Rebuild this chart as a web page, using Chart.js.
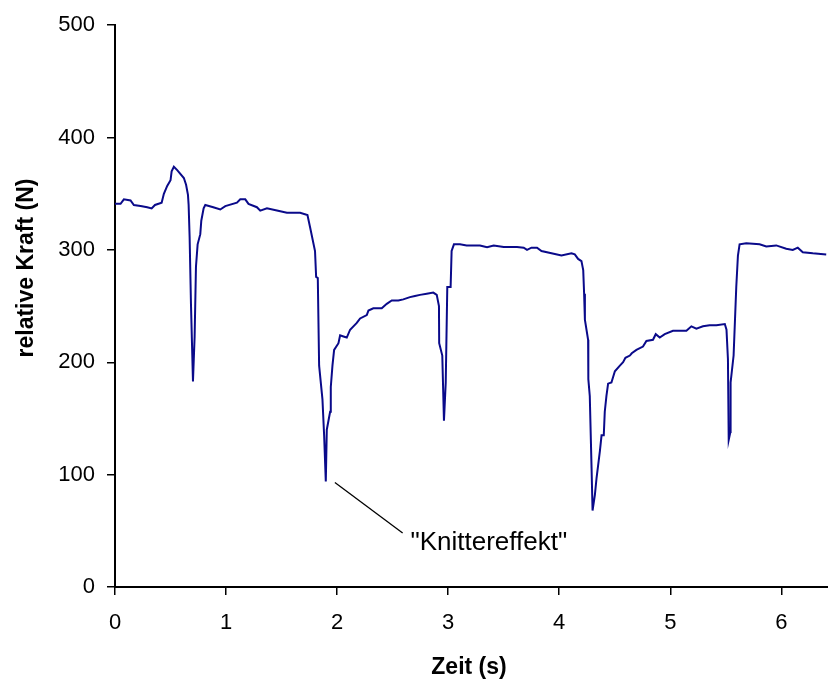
<!DOCTYPE html>
<html>
<head>
<meta charset="utf-8">
<script src="https://cdn.jsdelivr.net/npm/chart.js@4"></script>
<style>
  body { margin: 0; background: #fff; }
  #wrap { width: 828px; height: 684px; }
</style>
</head>
<body>
<div id="wrap"><canvas id="chart" width="828" height="684"></canvas></div>
<script>
// Time in seconds and relative force in N
const timeS = [
  0.00, 0.05, 0.08, 0.14, 0.17, 0.23, 0.29, 0.33, 0.36, 0.42, 0.44, 0.47, 0.50, 0.51, 0.53, 0.56,
  0.62, 0.64, 0.657, 0.663, 0.672, 0.684, 0.702, 0.717, 0.729, 0.744, 0.768, 0.777, 0.798, 0.813,
  0.885, 0.948, 0.993, 1.098, 1.128, 1.173, 1.202, 1.278, 1.308, 1.368, 1.458, 1.548, 1.667, 1.733,
  1.757, 1.801, 1.811, 1.826, 1.838, 1.868, 1.883, 1.898, 1.907, 1.937, 1.943, 1.958, 1.973, 2.012,
  2.027, 2.057, 2.087, 2.117, 2.177, 2.207, 2.267, 2.282, 2.326, 2.402, 2.447, 2.492, 2.551, 2.596,
  2.656, 2.701, 2.746, 2.807, 2.866, 2.897, 2.917, 2.919, 2.947, 2.962, 2.978, 2.992, 3.022, 3.031,
  3.052, 3.106, 3.166, 3.286, 3.35, 3.41, 3.50, 3.62, 3.68, 3.71, 3.75, 3.80, 3.84, 3.93, 4.02,
  4.11, 4.14, 4.17, 4.20, 4.216, 4.224, 4.231, 4.260, 4.262, 4.275, 4.291, 4.300, 4.321, 4.336,
  4.366, 4.381, 4.401, 4.410, 4.425, 4.440, 4.470, 4.501, 4.546, 4.575, 4.596, 4.636, 4.653, 4.695,
  4.754, 4.785, 4.844, 4.869, 4.905, 4.950, 5.024, 5.085, 5.145, 5.190, 5.235, 5.294, 5.354, 5.415,
  5.491, 5.506, 5.519, 5.526, 5.541, 5.543, 5.570, 5.594, 5.609, 5.624, 5.684, 5.804, 5.864, 5.954,
  6.044, 6.103, 6.148, 6.193, 6.283, 6.404
];
const forceN = [
  341, 341, 345, 344, 340, 339, 338, 337, 340, 342, 350, 357, 362, 370, 374, 371,
  364, 358, 349, 340, 311, 252, 183, 223, 285, 305, 314, 326, 337, 340,
  338, 336, 339, 342, 345, 345, 341, 338, 335, 337, 335, 333, 333, 331,
  320, 299, 276, 275, 197, 167, 135, 94, 140, 156, 178, 197, 211, 217,
  224, 223, 222, 229, 235, 239, 242, 246, 248, 248, 252, 255, 255, 256,
  258, 259, 260, 261, 262, 260, 250, 217, 206, 148, 182, 267, 267, 299,
  305, 305, 304, 304, 302.5, 304, 302.5, 302.5, 302, 300, 302, 302, 299, 297, 295,
  297, 296, 292, 290, 282, 261, 238, 220, 185, 170, 106, 68, 82, 97,
  121, 135, 135, 156, 170, 181, 182, 192, 197, 200, 204, 206, 208, 211,
  214, 219, 220, 225, 222, 225, 228, 228, 228, 232, 230, 232, 233, 233,
  234, 229, 203, 131, 138, 182, 206, 267, 295, 305, 306, 305, 303, 304,
  301, 300, 302, 298, 297, 296
];

const yTicks = [0, 100, 200, 300, 400, 500];
const xTicks = [0, 1, 2, 3, 4, 5, 6];
const xMax = 6.42;

const xTitle = 'Zeit (s)';
const yTitle = 'relative Kraft (N)';
const noteText = '"Knittereffekt"';
// annotation leader line: from near the dip to the label (data units)
const noteFrom = { x: 1.98, y: 93 };
const noteTo = { x: 2.59, y: 48 };
const noteLabel = { x: 2.66, y: 39 };

const FONT = "'Liberation Sans', Arial, sans-serif";

const labelsPlugin = {
    id: 'labels',
    afterDraw(chart) {
        const ctx = chart.ctx;
        const xs = chart.scales.x;
        const ys = chart.scales.y;
        ctx.save();
        ctx.fillStyle = '#000';

        // axis titles
        ctx.font = 'bold 23px ' + FONT;
        ctx.textAlign = 'center';
        ctx.textBaseline = 'middle';
        ctx.fillText(xTitle, 469, 668);
        ctx.save();
        ctx.translate(27, 268);
        ctx.rotate(-Math.PI / 2);
        ctx.fillText(yTitle, 0, 0);
        ctx.restore();

        // annotation
        ctx.strokeStyle = '#000';
        ctx.lineWidth = 1.3;
        ctx.beginPath();
        ctx.moveTo(xs.getPixelForValue(noteFrom.x), ys.getPixelForValue(noteFrom.y));
        ctx.lineTo(xs.getPixelForValue(noteTo.x), ys.getPixelForValue(noteTo.y));
        ctx.stroke();
        ctx.font = '26px ' + FONT;
        ctx.textAlign = 'left';
        ctx.fillText(noteText, xs.getPixelForValue(noteLabel.x), ys.getPixelForValue(noteLabel.y));
        ctx.restore();
    }
};

document.addEventListener('DOMContentLoaded', function() {
    const points = timeS.map((t, i) => ({ x: t, y: forceN[i] }));

    new Chart(document.getElementById('chart'), {
        type: 'line',
        data: {
            datasets: [{
                data: points,
                borderColor: '#0a0a8a',
                borderWidth: 2,
                pointRadius: 0,
                tension: 0,
                fill: false
            }]
        },
        options: {
            responsive: false,
            animation: false,
            devicePixelRatio: 1,
            layout: { padding: { top: 18, left: 0, right: 0, bottom: 0 } },
            plugins: {
                legend: { display: false },
                tooltip: { enabled: false }
            },
            scales: {
                x: {
                    type: 'linear',
                    min: 0,
                    max: xMax,
                    afterBuildTicks: s => { s.ticks = xTicks.map(v => ({ value: v })); },
                    afterFit: s => { s.height = 97; },
                    border: { color: '#000', width: 2 },
                    grid: { drawOnChartArea: false, drawTicks: true, tickLength: 8, color: '#000', lineWidth: 1.5 },
                    ticks: { color: '#000', font: { family: FONT, size: 22 }, padding: 15, maxRotation: 0 }
                },
                y: {
                    min: 0,
                    max: 500,
                    afterBuildTicks: s => { s.ticks = yTicks.map(v => ({ value: v })); },
                    afterFit: s => { s.width = 115; },
                    border: { color: '#000', width: 2 },
                    grid: { drawOnChartArea: false, drawTicks: true, tickLength: 8, color: '#000', lineWidth: 1.5 },
                    ticks: { color: '#000', font: { family: FONT, size: 22 }, padding: 12 }
                }
            }
        },
        plugins: [labelsPlugin]
    });
});
</script>
</body>
</html>
